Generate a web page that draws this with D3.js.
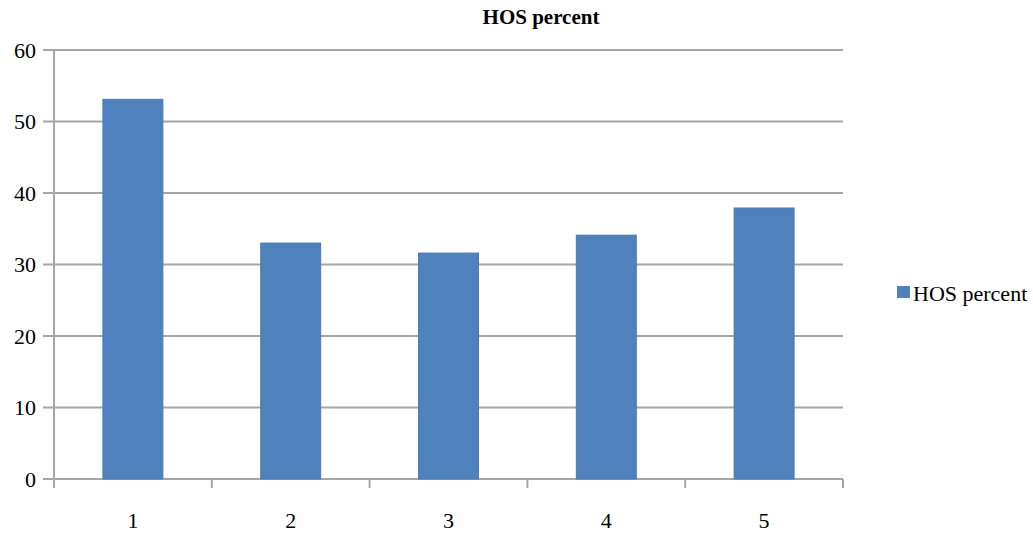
<!DOCTYPE html>
<html lang="en">
  <head>
    <title>HOS percent</title>
    <script src="https://cdn.jsdelivr.net/npm/d3@7"></script>
    <style>body { margin: 0; background: white; }</style>
  </head>
  <body>
    <div id="container"></div>
<script>
    const categories = ["1", "2", "3", "4", "5"];
    const hosPercent = [53.1, 33.0, 31.6, 34.1, 37.9];
    const yTicks = [0, 10, 20, 30, 40, 50, 60];
    const seriesName = "HOS percent";

    const W = 1033, H = 536;
    const margin = {top: 50, right: 190, bottom: 57, left: 54};
    const width = W - margin.left - margin.right;
    const height = H - margin.top - margin.bottom;
    const font = "'Liberation Serif', 'Times New Roman', serif";
    const grey = "#a6a6a6";

    const svg = d3.select("#container").append("svg")
      .attr("width", W).attr("height", H);
    const g = svg.append("g").attr("transform", `translate(${margin.left}, ${margin.top})`);

    const x = d3.scaleBand().domain(categories).range([0, width]).paddingInner(0.62).paddingOuter(0.31);
    const xOuter = d3.scaleBand().domain(categories).range([0, width]);
    const y = d3.scaleLinear().domain([0, 60]).range([height, 0]);

    // gridlines
    g.append("g").selectAll("line").data(yTicks).enter().append("line")
      .attr("x1", -11).attr("x2", width)
      .attr("y1", d => y(d)).attr("y2", d => y(d))
      .attr("stroke", grey).attr("stroke-width", 2);

    // y axis labels
    g.append("g").selectAll("text").data(yTicks).enter().append("text")
      .attr("x", -18).attr("y", d => y(d)).attr("dy", "0.35em")
      .attr("text-anchor", "end")
      .style("font", `22px ${font}`).attr("fill", "black")
      .text(d => d);

    // y axis line
    g.append("line").attr("x1", 0).attr("x2", 0).attr("y1", 0).attr("y2", height)
      .attr("stroke", grey).attr("stroke-width", 2);

    // x tick marks at category boundaries
    const bounds = categories.map(c => xOuter(c)).concat([width]);
    g.append("g").selectAll("line").data(bounds).enter().append("line")
      .attr("x1", d => d).attr("x2", d => d)
      .attr("y1", height).attr("y2", height + 9)
      .attr("stroke", grey).attr("stroke-width", 2);

    // bars
    g.append("g").selectAll("rect").data(hosPercent).enter().append("rect")
      .attr("x", (d, i) => x(categories[i]))
      .attr("y", d => y(d))
      .attr("width", x.bandwidth())
      .attr("height", d => height - y(d))
      .attr("fill", "#4f81bd")
      .attr("stroke", "#4a7ab5").attr("stroke-width", 1);

    // x labels
    g.append("g").selectAll("text").data(categories).enter().append("text")
      .attr("x", d => xOuter(d) + xOuter.bandwidth() / 2)
      .attr("y", height + 41)
      .attr("dy", "0.35em")
      .attr("text-anchor", "middle")
      .style("font", `22px ${font}`).attr("fill", "black")
      .text(d => d);

    // title
    svg.append("text").attr("x", 541).attr("y", 24)
      .attr("text-anchor", "middle")
      .style("font", `bold 21px ${font}`).attr("fill", "black")
      .text(seriesName);

    // legend
    svg.append("rect").attr("x", 897).attr("y", 286).attr("width", 13).attr("height", 12)
      .attr("fill", "#4f81bd");
    svg.append("text").attr("x", 913).attr("y", 293).attr("dy", "0.35em")
      .style("font", `22px ${font}`).attr("fill", "black")
      .text(seriesName);
</script>
  </body>
</html>
